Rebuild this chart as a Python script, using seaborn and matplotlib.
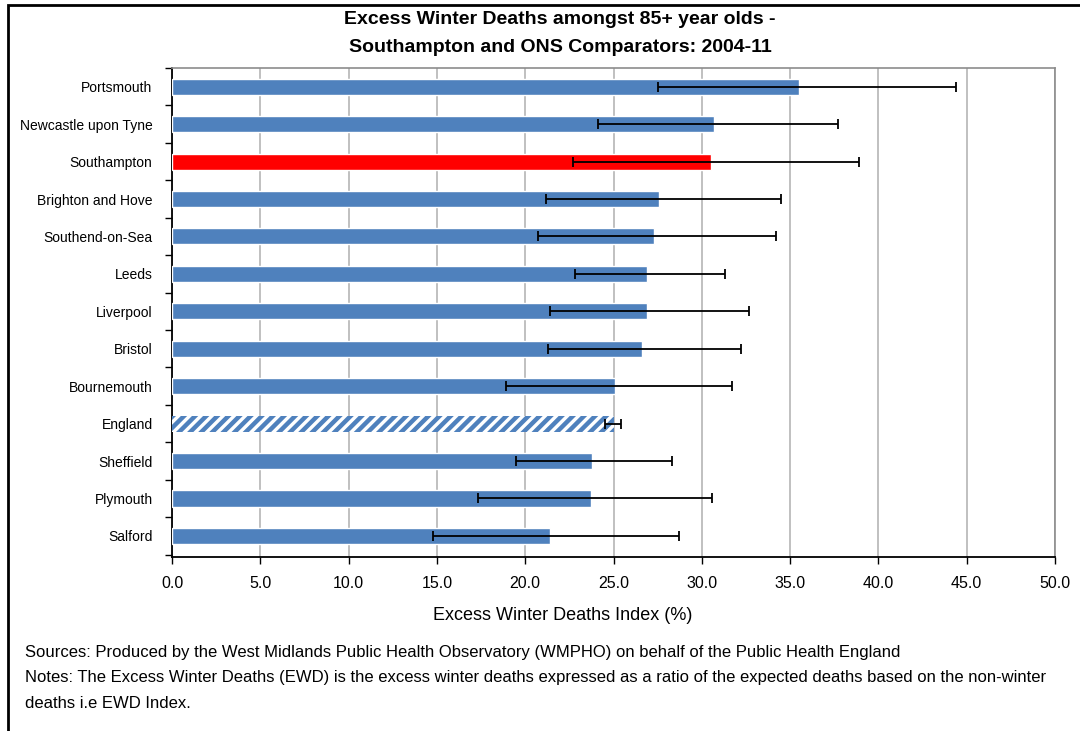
import numpy as np
import pandas as pd
import matplotlib
matplotlib.use("Agg")
import matplotlib.pyplot as plt
import seaborn as sns
from matplotlib.patches import Rectangle

areas = ["Portsmouth", "Newcastle upon Tyne", "Southampton", "Brighton and Hove",
         "Southend-on-Sea", "Leeds", "Liverpool", "Bristol", "Bournemouth",
         "England", "Sheffield", "Plymouth", "Salford"]
ewd_index = [35.5, 30.7, 30.5, 27.6, 27.3, 26.9, 26.9, 26.6, 25.1, 25.0, 23.8, 23.7, 21.4]
ci_low = [27.5, 24.1, 22.7, 21.2, 20.7, 22.8, 21.4, 21.3, 18.9, 24.5, 19.5, 17.3, 14.8]
ci_high = [44.4, 37.7, 38.9, 34.5, 34.2, 31.3, 32.7, 32.2, 31.7, 25.4, 28.3, 30.6, 28.7]
x_ticks = [0, 5, 10, 15, 20, 25, 30, 35, 40, 45, 50]

blue = "#4F81BD"
red = "#FF0000"

df = pd.DataFrame({"Area": areas, "EWD": ewd_index})
colors = {a: (red if a == "Southampton" else blue) for a in areas}

sns.set_style("white")
plt.rcParams["font.family"] = ["Liberation Sans", "DejaVu Sans"]
plt.rcParams["text.color"] = "black"
plt.rcParams["xtick.color"] = "black"
plt.rcParams["ytick.color"] = "black"
plt.rcParams["axes.labelcolor"] = "black"
plt.rcParams["hatch.linewidth"] = 3.2
plt.rcParams["hatch.color"] = blue

fig = plt.figure(figsize=(10.8, 7.31), dpi=100)
ax = fig.add_axes([172 / 1080, 1 - 556.5 / 731, (1055 - 172) / 1080, (556.5 - 68) / 731])

sns.barplot(data=df, x="EWD", y="Area", hue="Area", palette=colors, orient="h",
            width=0.43, ax=ax, legend=False, saturation=1, zorder=3)

# England bar is hatched
for patch, a in zip(ax.patches, areas):
    if a == "England":
        patch.set_facecolor("white")
        patch.set_edgecolor(blue)
        patch.set_hatch("///")
        patch.set_linewidth(0)

pos = np.arange(len(areas))
vals = np.array(ewd_index)
err = [vals - np.array(ci_low), np.array(ci_high) - vals]
ax.errorbar(vals, pos, xerr=err, fmt="none", ecolor="black", elinewidth=1.3,
            capsize=3.5, capthick=1.3, zorder=4)

ax.set_xlim(0, 50)
ax.set_ylim(len(areas) - 0.45, -0.48)
ax.set_xticks(x_ticks)
ax.set_xticklabels([f"{t:.1f}" for t in x_ticks], fontsize=11.5)
ax.set_yticks(pos)
ax.set_yticklabels(areas, fontsize=10)
ax.set_yticks(np.arange(-0.5, len(areas)), minor=True)
ax.tick_params(axis="y", which="major", length=0, pad=14)
ax.tick_params(axis="y", which="minor", length=5, width=1, color="black", left=True)
ax.tick_params(axis="x", which="major", length=5, width=1, color="black", bottom=True, pad=9)
ax.grid(axis="x", color="#C0C0C0", linewidth=1.4, zorder=0)
ax.set_axisbelow(True)
ax.set_xlabel("")
ax.set_ylabel("")

for side in ["left", "bottom"]:
    ax.spines[side].set_color("black")
    ax.spines[side].set_linewidth(1.3)
for side in ["top", "right"]:
    ax.spines[side].set_color("#8C8C8C")
    ax.spines[side].set_linewidth(1.2)

fig.text(563 / 1080, 1 - 615 / 731, "Excess Winter Deaths Index (%)",
         ha="center", va="center", fontsize=13)
fig.text(560 / 1080, 1 - 20 / 731, "Excess Winter Deaths amongst 85+ year olds -",
         ha="center", va="center", fontsize=14, fontweight="bold")
fig.text(560 / 1080, 1 - 48 / 731, "Southampton and ONS Comparators: 2004-11",
         ha="center", va="center", fontsize=14, fontweight="bold")

notes = [
    "Sources: Produced by the West Midlands Public Health Observatory (WMPHO) on behalf of the Public Health England",
    "Notes: The Excess Winter Deaths (EWD) is the excess winter deaths expressed as a ratio of the expected deaths based on the non-winter",
    "deaths i.e EWD Index.",
]
for i, line in enumerate(notes):
    fig.text(25 / 1080, 1 - (652 + 25.5 * i) / 731, line, ha="left", va="center", fontsize=12)

# outer chart frame
fig.patches.append(Rectangle((8 / 1080, -0.1), 1.2, 1.1 - 5 / 731, transform=fig.transFigure,
                             fill=False, edgecolor="black", linewidth=2, clip_on=False))

fig.savefig("out.png", dpi=100)
